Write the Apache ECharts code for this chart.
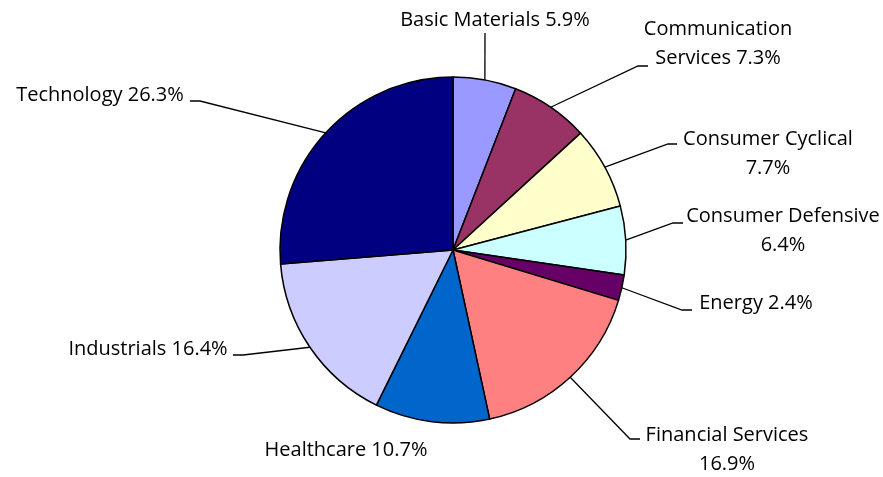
<!DOCTYPE html>
<html>
<head>
<meta charset="utf-8">
<script src="https://cdn.jsdelivr.net/npm/echarts@6/dist/echarts.min.js"></script>
<style>html,body{margin:0;padding:0;background:#fff}#chart{width:883px;height:477px}</style>
</head>
<body>
<div id="chart"></div>
<script>
// ---- data ----
const categories = ['Basic Materials','Communication Services','Consumer Cyclical','Consumer Defensive','Energy','Financial Services','Healthcare','Industrials','Technology'];
const shares = [5.9, 7.3, 7.7, 6.4, 2.4, 16.9, 10.7, 16.4, 26.3];
const colors = ['#9999FF','#993366','#FFFFCC','#CCFFFF','#660066','#FF8080','#0066CC','#CCCCFF','#000080'];
// label wrapping: 'none' = one line, 'pct' = break before percent, 'word' = break after first word
const wrapMode = ['none','word','pct','pct','none','pct','none','none','none'];
const hasLeader = [true,true,true,true,true,true,false,true,true];

// ---- label placement (layout only) ----
const labelPlace = [
  {x:495, y:20,  line:[[485,33]]},
  {x:718, y:44,  line:[[638,66],[648,66]]},
  {x:768, y:154, line:[[668,144],[677,144]]},
  {x:783, y:231, line:[[673,223],[683,223]]},
  {x:756, y:303, line:[[682,310],[692,310]]},
  {x:727, y:450, line:[[630,439],[640,439]]},
  {x:346, y:450, line:[]},
  {x:148, y:349, line:[[243,355],[233,355]]},
  {x:100, y:95,  line:[[200,101],[190,101]]}
];

function labelText(i){
  const pct = shares[i].toFixed(1) + '%';
  const name = categories[i];
  if (wrapMode[i] === 'pct') return name + '\n' + pct;
  if (wrapMode[i] === 'word') { const k = name.indexOf(' '); return name.slice(0,k) + '\n' + name.slice(k+1) + ' ' + pct; }
  return name + ' ' + pct;
}

const chart = echarts.init(document.getElementById('chart'), null, {renderer:'canvas'});
chart.setOption({
  animation: false,
  backgroundColor: '#fff',
  series: [{
    type: 'pie',
    center: [453, 250],
    radius: 173,
    startAngle: 90,
    clockwise: true,
    avoidLabelOverlap: false,
    data: categories.map((c,i) => ({
      name: c, value: shares[i],
      itemStyle: {color: colors[i]},
      labelLine: {show: hasLeader[i]}
    })),
    itemStyle: {borderColor:'#000', borderWidth:1.5},
    emphasis: {disabled: true},
    label: {
      show: true,
      position: 'outside',
      formatter: p => labelText(p.dataIndex),
      color: '#000',
      fontFamily: 'Open Sans',
      fontSize: 20,
      lineHeight: 29,
      align: 'center'
    },
    labelLine: {show: true, length: 10, length2: 10, lineStyle: {color:'#000', width:1.3}},
    labelLayout: function(p){
      const L = labelPlace[p.dataIndex];
      const res = {x: L.x, y: L.y, align: 'center', verticalAlign: 'middle'};
      if (p.labelLinePoints && L.line.length) {
        res.labelLinePoints = [p.labelLinePoints[0]].concat(L.line);
      }
      return res;
    }
  }]
});
</script>
</body>
</html>
